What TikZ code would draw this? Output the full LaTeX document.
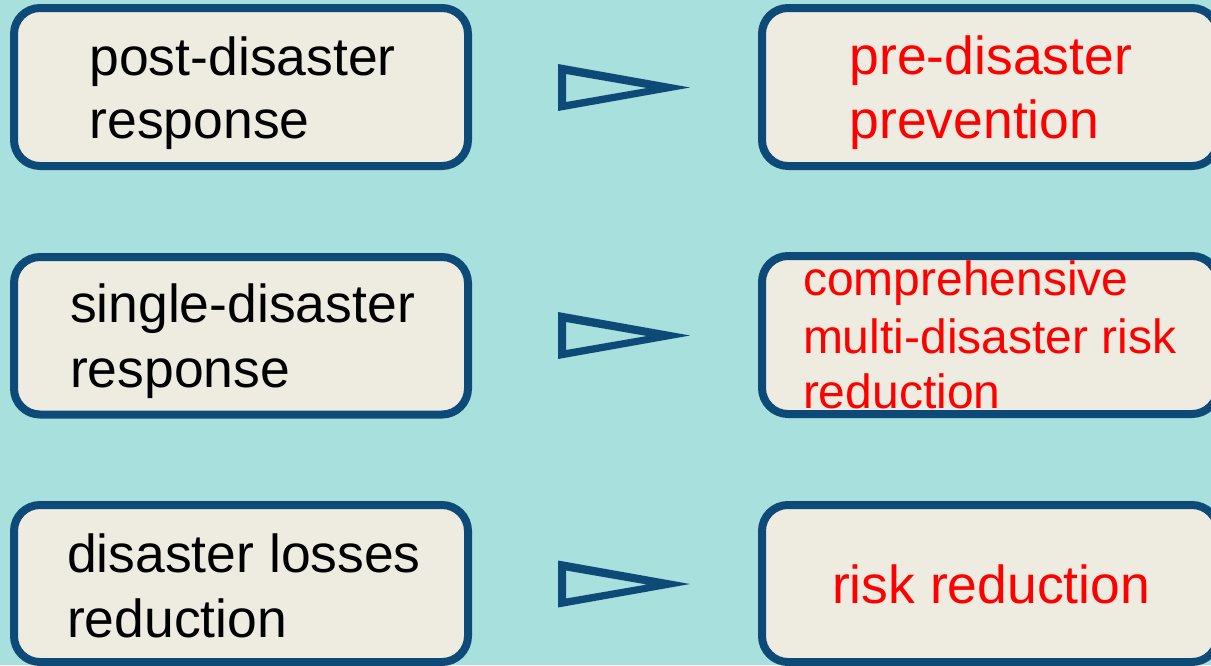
\documentclass[tikz,border=0pt]{standalone}
\usepackage{fontspec}
\setmainfont{Liberation Sans}
\definecolor{bgc}{HTML}{A8E0DD}
\definecolor{boxfill}{HTML}{EEEBE0}
\definecolor{boxline}{HTML}{0E4A78}
\definecolor{redtxt}{HTML}{FF0000}
\begin{document}
\begin{tikzpicture}[x=1pt,y=-1pt,
  card/.style={draw=boxline, fill=boxfill, line width=8pt, rounded corners=26pt,
    rectangle, inner sep=0pt, minimum height=158pt},
  leftcard/.style={card, minimum width=454pt},
  rightcard/.style={card, minimum width=456pt},
  lbl/.style={anchor=base west, inner sep=0pt, outer sep=0pt,
    font=\fontsize{53.5}{63}\selectfont},
  redlbl/.style={lbl, text=redtxt},
  smallred/.style={redlbl, font=\fontsize{48}{57}\selectfont},
  tri/.style={fill=boxline, even odd rule}
]
\fill[bgc] (0,0) rectangle (1211,665);
\useasboundingbox (0,0) rectangle (1211,665);

% left boxes
\node[leftcard] (L1) at (241,87) {};
\node[leftcard, minimum height=157.5pt] (L2) at (241,335.75) {};
\node[leftcard, minimum height=157pt] (L3) at (241,583.5) {};
% right boxes
\node[rightcard] (R1) at (990,87) {};
\node[rightcard] (R2) at (990,335) {};
\node[rightcard, minimum height=157pt] (R3) at (990,583.5) {};

% left texts
\node[lbl] (t1a) at (89.5,75) {post-disaster};
\node[lbl] (t1b) at (89.5,138) {response};
\node[lbl] (t2a) at (70,322) {single-disaster};
\node[lbl] (t2b) at (70,387) {response};
\node[lbl] (t3a) at (67,572) {disaster losses};
\node[lbl] (t3b) at (67,637) {reduction};

% right texts
\node[redlbl] (r1a) at (849.5,74) {pre-disaster};
\node[redlbl] (r1b) at (849.5,138) {prevention};
\node[smallred] (r2a) at (803,295) {comprehensive};
\node[smallred] (r2b) at (803,353) {multi-disaster risk};
\node[smallred] (r2c) at (803,408) {reduction};
\node[redlbl] (r3a) at (832,603) {risk reduction};

% hollow triangle arrows
\foreach \dy in {0,248,496.5}{
  \fill[tri] (558,64+\dy) -- (558,111+\dy) -- (690,87.5+\dy) -- cycle
             (566,74+\dy) -- (566,102+\dy) -- (647,88+\dy) -- cycle;
}
\end{tikzpicture}
\end{document}
